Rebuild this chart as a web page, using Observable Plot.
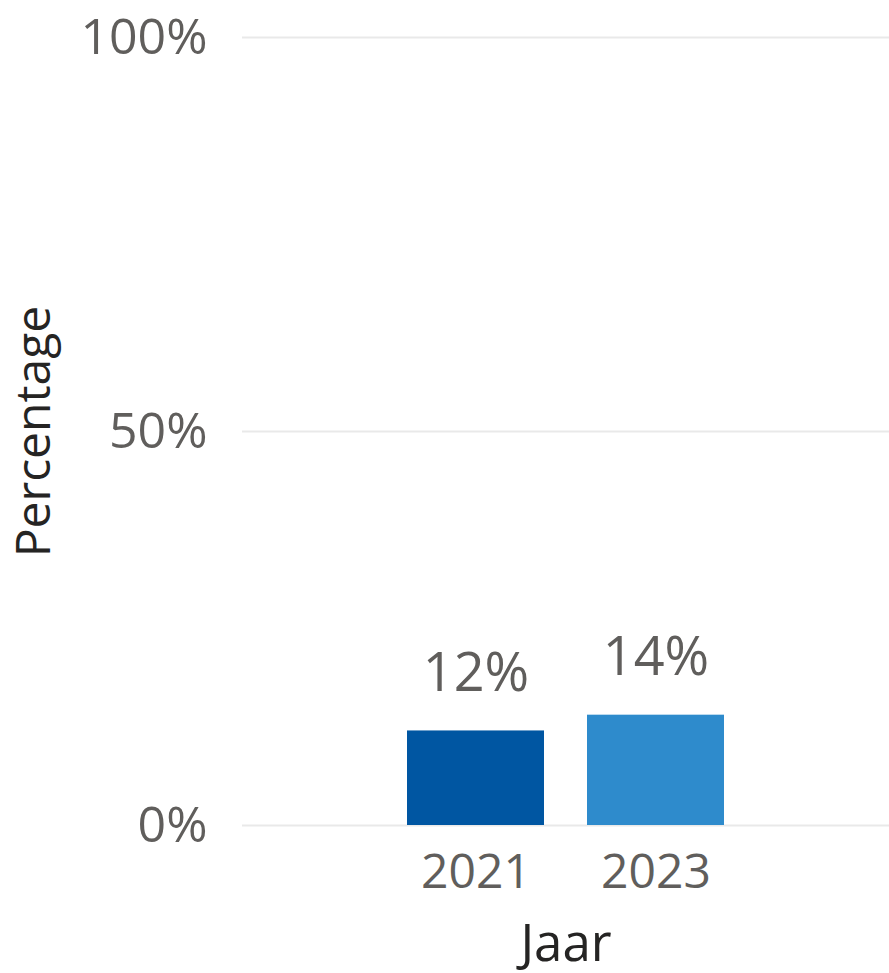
<!DOCTYPE html>
<html>
<head>
<meta charset="utf-8">
<script src="https://cdn.jsdelivr.net/npm/d3@7"></script>
<script src="https://cdn.jsdelivr.net/npm/@observablehq/plot@0.6"></script>
<style>
  html, body { margin: 0; padding: 0; background: #fff; }
  svg { display: block; }
</style>
</head>
<body>
<div id="chart"></div>
<script>
const years = ["2021", "2023"];
const values = [0.12, 0.14];
const colors = ["#0056A2", "#2E8BCC"];
const yTicks = [0, 0.5, 1];
const xTitle = "Jaar";
const yTitle = "Percentage";

const data = years.map((y, i) => ({year: y, value: values[i], color: colors[i]}));
const fmt = d3.format(".0%");

const chart = Plot.plot({
  width: 889,
  height: 973,
  marginLeft: 242,
  marginRight: 0,
  marginTop: 37,
  marginBottom: 148,
  style: {fontFamily: "'Open Sans', sans-serif", fontSize: "48px", color: "#605E5C", background: "#fff"},
  x: {domain: years, paddingInner: 0.24, paddingOuter: 0.91, label: null},
  y: {domain: [0, 1], label: null},
  marks: [
    Plot.gridY(yTicks, {stroke: "#E9E9E9", strokeOpacity: 1, strokeWidth: 2}),
    Plot.axisY(yTicks, {tickSize: 0, tickPadding: 35, tickFormat: fmt, fontSize: 50, fill: "#605E5C", label: null}),
    Plot.axisX({tickSize: 0, tickPadding: 28, fontSize: 48, fill: "#605E5C", label: null}),
    Plot.barY(data, {x: "year", y: "value", fill: "color"}),
    Plot.text(data, {x: "year", y: "value", text: d => fmt(d.value), dy: -57, fontSize: 54, fill: "#605E5C", lineAnchor: "middle"}),
    Plot.text([xTitle], {frameAnchor: "bottom", text: d => d, dy: 119, fontSize: 51, fill: "#252423", lineAnchor: "middle", textAnchor: "middle"}),
    Plot.text([yTitle], {frameAnchor: "left", text: d => d, dx: -208, rotate: -90, fontSize: 48, fill: "#252423", lineAnchor: "middle", textAnchor: "middle"})
  ]
});
document.getElementById("chart").appendChild(chart);
</script>
</body>
</html>
